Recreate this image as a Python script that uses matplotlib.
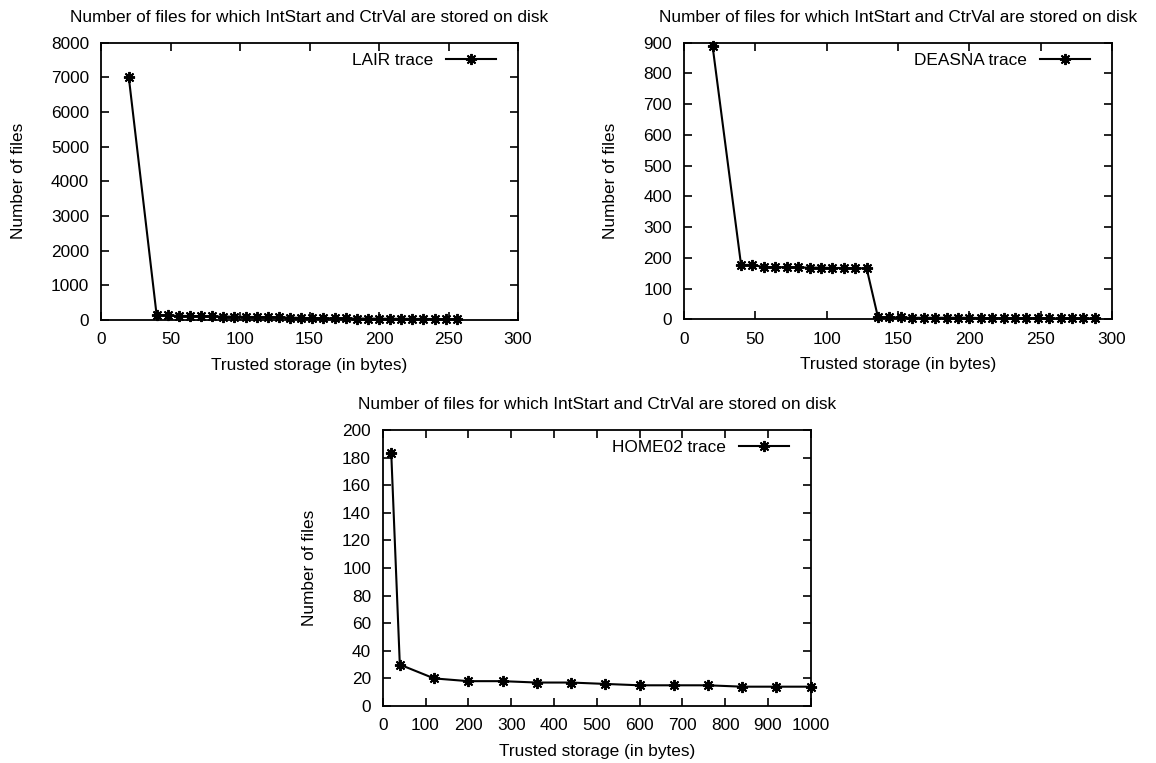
import matplotlib
matplotlib.use('Agg')
import matplotlib.pyplot as plt
from matplotlib.transforms import offset_copy

plt.rcParams['font.family'] = ['Liberation Sans', 'DejaVu Sans']
plt.rcParams['font.size'] = 12.4

TITLE = 'Number of files for which IntStart and CtrVal are stored on disk'
XLABEL = 'Trusted storage (in bytes)'
YLABEL = 'Number of files'

# LAIR trace
lair_x = [20, 40, 48, 56, 64, 72, 80, 88, 96, 104, 112, 120, 128, 136, 144,
          152, 160, 168, 176, 184, 192, 200, 208, 216, 224, 232, 240, 248, 256]
lair_y = [7000, 150, 130, 120, 115, 110, 105, 100, 95, 90, 85, 80, 75, 70, 60,
          55, 50, 48, 45, 42, 40, 38, 36, 34, 32, 30, 28, 26, 25]

# DEASNA trace
deasna_x = [20, 40, 48, 56, 64, 72, 80, 88, 96, 104, 112, 120, 128,
            136, 144, 152, 160, 168, 176, 184, 192, 200, 208, 216, 224,
            232, 240, 248, 256, 264, 272, 280, 288]
deasna_y = [890, 177, 177, 170, 170, 169, 169, 168, 168, 167, 167, 166, 166,
            6, 6, 6, 5, 5, 5, 5, 5, 5, 4, 4, 4,
            4, 4, 4, 3, 3, 3, 3, 3]

# HOME02 trace
home_x = [20, 40, 120, 200, 280, 360, 440, 520, 600, 680, 760, 840, 920, 1000]
home_y = [183, 30, 20, 18, 18, 17, 17, 16, 15, 15, 15, 14, 14, 14]

fig = plt.figure(figsize=(11.56, 7.63), dpi=100)
W, H = 1156.0, 763.0

def make_ax(l, t, r, b):
    return fig.add_axes([l / W, 1 - b / H, (r - l) / W, (b - t) / H])

ax1 = make_ax(101, 42.7, 518, 320)
ax2 = make_ax(684, 42.7, 1112, 319.3)
ax3 = make_ax(382.7, 430, 810.7, 706)

star = (8, 2, 0)  # gnuplot-like asterisk

def setup(ax, xs, ys, label, xlim, xticks, ylim, yticks):
    ax.plot(xs, ys, color='black', lw=1.5, marker=star, ms=8, mew=1.4,
            label=label, clip_on=False)
    ax.set_xlim(xlim)
    ax.set_ylim(ylim)
    ax.set_xticks(xticks)
    ax.set_yticks(yticks)
    ax.tick_params(direction='in', length=6, width=1.2, top=True, right=True,
                   labelsize=12.4)
    ax.tick_params(axis='y', pad=8.5)
    ax.tick_params(axis='x', pad=9)
    for s in ax.spines.values():
        s.set_linewidth(1.3)
    ax.set_title(TITLE, fontsize=12.4, pad=15)
    ax.set_xlabel(XLABEL, labelpad=7.5)
    ax.set_ylabel(YLABEL, labelpad=18)
    tr = offset_copy(ax.transAxes, fig=fig, x=-22, y=-10, units='dots')
    ax.legend(loc='upper right', bbox_to_anchor=(1, 1), bbox_transform=tr,
              frameon=False, markerfirst=False, borderpad=0, borderaxespad=0,
              handlelength=2.9, handletextpad=0.75, numpoints=1)

setup(ax1, lair_x, lair_y, 'LAIR trace', (0, 300), range(0, 301, 50),
      (0, 8000), range(0, 8001, 1000))
setup(ax2, deasna_x, deasna_y, 'DEASNA trace', (0, 300), range(0, 301, 50),
      (0, 900), range(0, 901, 100))
setup(ax3, home_x, home_y, 'HOME02 trace', (0, 1000), range(0, 1001, 100),
      (0, 200), range(0, 201, 20))

fig.savefig('out.png', dpi=100)
